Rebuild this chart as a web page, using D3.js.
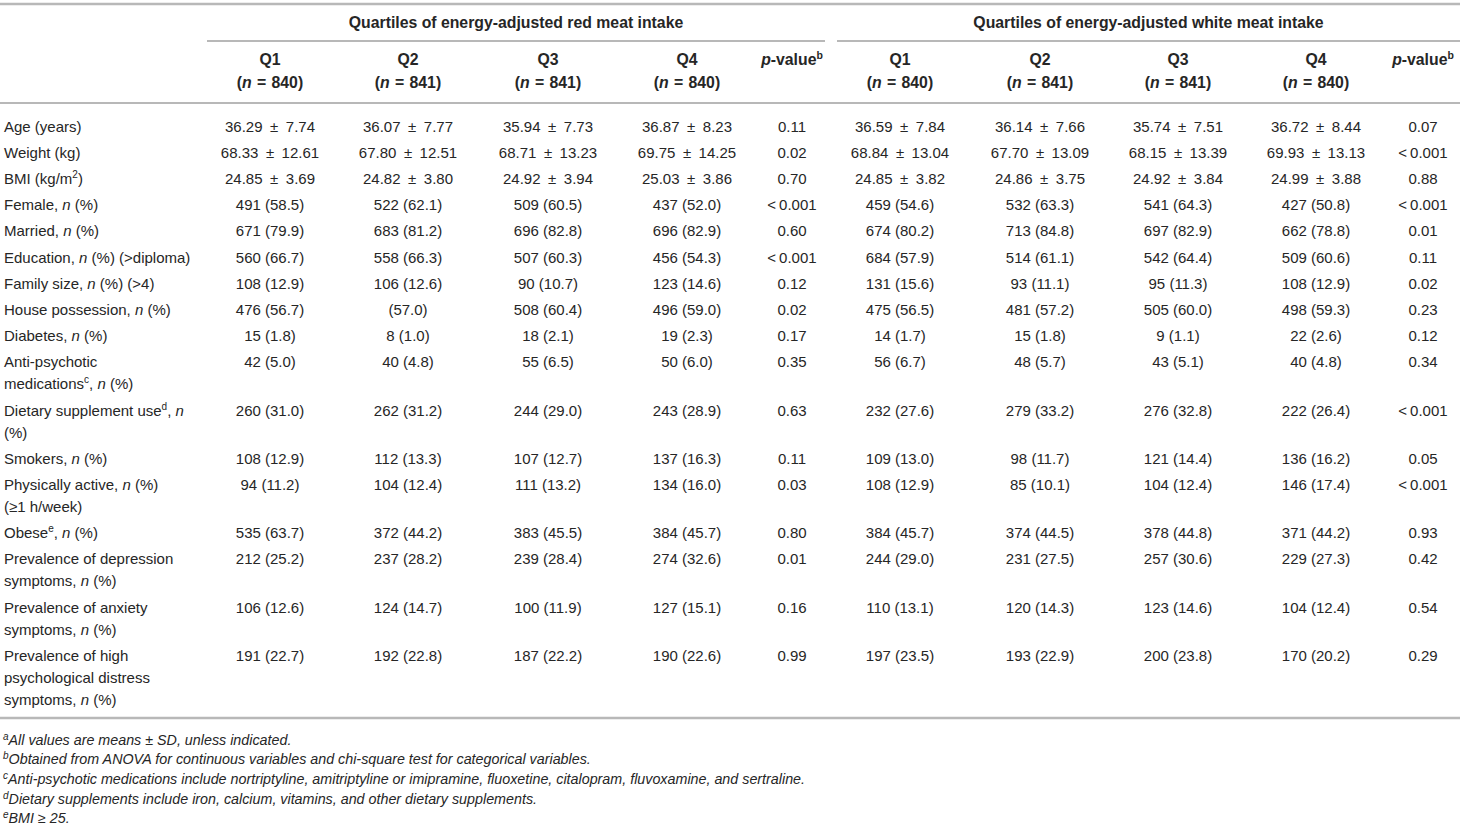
<!DOCTYPE html>
<html>
<head>
<meta charset="utf-8">
<script src="https://cdn.jsdelivr.net/npm/d3@7"></script>
<style>
  html, body { margin: 0; padding: 0; background: #fff; }
  svg text { font-family: "Liberation Sans", Arial, Helvetica, sans-serif; fill: #262626; }
</style>
</head>
<body>
<div id="table"></div>
<script>
// Row labels: *x* = italic, ^{x} = superscript, one string per line
const rowLabels = [
    ["Age (years)"],
    ["Weight (kg)"],
    ["BMI (kg/m^{2})"],
    ["Female, *n* (%)"],
    ["Married, *n* (%)"],
    ["Education, *n* (%) (>diploma)"],
    ["Family size, *n* (%) (>4)"],
    ["House possession, *n* (%)"],
    ["Diabetes, *n* (%)"],
    ["Anti-psychotic", "medications^{c}, *n* (%)"],
    ["Dietary supplement use^{d}, *n*", "(%)"],
    ["Smokers, *n* (%)"],
    ["Physically active, *n* (%)", "(≥1 h/week)"],
    ["Obese^{e}, *n* (%)"],
    ["Prevalence of depression", "symptoms, *n* (%)"],
    ["Prevalence of anxiety", "symptoms, *n* (%)"],
    ["Prevalence of high", "psychological distress", "symptoms, *n* (%)"]
];

const groupTitles = ["Quartiles of energy-adjusted red meat intake", "Quartiles of energy-adjusted white meat intake"];
const quartileNames = ["Q1", "Q2", "Q3", "Q4"];
const quartileN = [840, 841, 841, 840];

const redQ1 = ["36.29 ± 7.74", "68.33 ± 12.61", "24.85 ± 3.69", "491 (58.5)", "671 (79.9)", "560 (66.7)", "108 (12.9)", "476 (56.7)", "15 (1.8)", "42 (5.0)", "260 (31.0)", "108 (12.9)", "94 (11.2)", "535 (63.7)", "212 (25.2)", "106 (12.6)", "191 (22.7)"];
const redQ2 = ["36.07 ± 7.77", "67.80 ± 12.51", "24.82 ± 3.80", "522 (62.1)", "683 (81.2)", "558 (66.3)", "106 (12.6)", "(57.0)", "8 (1.0)", "40 (4.8)", "262 (31.2)", "112 (13.3)", "104 (12.4)", "372 (44.2)", "237 (28.2)", "124 (14.7)", "192 (22.8)"];
const redQ3 = ["35.94 ± 7.73", "68.71 ± 13.23", "24.92 ± 3.94", "509 (60.5)", "696 (82.8)", "507 (60.3)", "90 (10.7)", "508 (60.4)", "18 (2.1)", "55 (6.5)", "244 (29.0)", "107 (12.7)", "111 (13.2)", "383 (45.5)", "239 (28.4)", "100 (11.9)", "187 (22.2)"];
const redQ4 = ["36.87 ± 8.23", "69.75 ± 14.25", "25.03 ± 3.86", "437 (52.0)", "696 (82.9)", "456 (54.3)", "123 (14.6)", "496 (59.0)", "19 (2.3)", "50 (6.0)", "243 (28.9)", "137 (16.3)", "134 (16.0)", "384 (45.7)", "274 (32.6)", "127 (15.1)", "190 (22.6)"];
const redP = ["0.11", "0.02", "0.70", "<0.001", "0.60", "<0.001", "0.12", "0.02", "0.17", "0.35", "0.63", "0.11", "0.03", "0.80", "0.01", "0.16", "0.99"];

const whiteQ1 = ["36.59 ± 7.84", "68.84 ± 13.04", "24.85 ± 3.82", "459 (54.6)", "674 (80.2)", "684 (57.9)", "131 (15.6)", "475 (56.5)", "14 (1.7)", "56 (6.7)", "232 (27.6)", "109 (13.0)", "108 (12.9)", "384 (45.7)", "244 (29.0)", "110 (13.1)", "197 (23.5)"];
const whiteQ2 = ["36.14 ± 7.66", "67.70 ± 13.09", "24.86 ± 3.75", "532 (63.3)", "713 (84.8)", "514 (61.1)", "93 (11.1)", "481 (57.2)", "15 (1.8)", "48 (5.7)", "279 (33.2)", "98 (11.7)", "85 (10.1)", "374 (44.5)", "231 (27.5)", "120 (14.3)", "193 (22.9)"];
const whiteQ3 = ["35.74 ± 7.51", "68.15 ± 13.39", "24.92 ± 3.84", "541 (64.3)", "697 (82.9)", "542 (64.4)", "95 (11.3)", "505 (60.0)", "9 (1.1)", "43 (5.1)", "276 (32.8)", "121 (14.4)", "104 (12.4)", "378 (44.8)", "257 (30.6)", "123 (14.6)", "200 (23.8)"];
const whiteQ4 = ["36.72 ± 8.44", "69.93 ± 13.13", "24.99 ± 3.88", "427 (50.8)", "662 (78.8)", "509 (60.6)", "108 (12.9)", "498 (59.3)", "22 (2.6)", "40 (4.8)", "222 (26.4)", "136 (16.2)", "146 (17.4)", "371 (44.2)", "229 (27.3)", "104 (12.4)", "170 (20.2)"];
const whiteP = ["0.07", "<0.001", "0.88", "<0.001", "0.01", "0.11", "0.02", "0.23", "0.12", "0.34", "<0.001", "0.05", "<0.001", "0.93", "0.42", "0.54", "0.29"];

const footnotes = [
    ["a", "All values are means ± SD, unless indicated."],
    ["b", "Obtained from ANOVA for continuous variables and chi-square test for categorical variables."],
    ["c", "Anti-psychotic medications include nortriptyline, amitriptyline or imipramine, fluoxetine, citalopram, fluvoxamine, and sertraline."],
    ["d", "Dietary supplements include iron, calcium, vitamins, and other dietary supplements."],
    ["e", "BMI ≥ 25."]
];

const width = 1460;
const height = 828;
const ruleColor = "#b8b8b8";

const svg = d3.select("#table")
    .append("svg")
    .attr("width", width)
    .attr("height", height);

svg.append("rect").attr("width", width).attr("height", height).attr("fill", "#fff");

// column centres
const columns = [
    { key: "rQ1", values: redQ1 }, { key: "rQ2", values: redQ2 },
    { key: "rQ3", values: redQ3 }, { key: "rQ4", values: redQ4 },
    { key: "rP", values: redP },
    { key: "wQ1", values: whiteQ1 }, { key: "wQ2", values: whiteQ2 },
    { key: "wQ3", values: whiteQ3 }, { key: "wQ4", values: whiteQ4 },
    { key: "wP", values: whiteP }
];
const x = d3.scaleOrdinal()
    .domain(columns.map(c => c.key))
    .range([270, 408, 548, 687, 792, 900, 1040, 1178, 1316, 1423]);

const groups = [
    { title: groupTitles[0], prefix: "r", x0: 207, x1: 825 },
    { title: groupTitles[1], prefix: "w", x0: 837, x1: width }
];

// row positions: one line = 26.2px, each extra line adds 22px
const lineGap = 22;
const rowStep = 26.2;
const firstBaseline = 131.5;
const rowY = [];
rowLabels.reduce((acc, lines) => {
    rowY.push(acc);
    return acc + rowStep + (lines.length - 1) * lineGap;
}, firstBaseline);

// wider spacing around ± and after <, as in the source typesetting
const spaced = s => s.replace(" ± ", "\u2002±\u2002").replace("<", "<\u2009");

// write a string with *italic* and ^{sup} markup into a text element
function richText(textEl, str, supSize) {
    const parts = str.split(/(\*[^*]+\*|\^\{[^}]+\})/).filter(p => p !== "");
    let raised = false;
    parts.forEach(p => {
        const t = textEl.append("tspan");
        if (p.startsWith("^{")) {
            t.text(p.slice(2, -1)).style("font-size", supSize + "px").attr("dy", -6);
            raised = true;
            return;
        }
        if (p.startsWith("*")) {
            t.text(p.slice(1, -1)).style("font-style", "italic");
        } else {
            t.text(p);
        }
        if (raised) { t.attr("dy", 6); raised = false; }
    });
}

// rules
const rule = (x0, x1, y, w) => svg.append("line")
    .attr("x1", x0).attr("x2", x1).attr("y1", y).attr("y2", y)
    .attr("stroke", ruleColor).attr("stroke-width", w);

rule(0, width, 4, 2.5);
rule(0, width, 103, 2);
rule(0, width, 718, 2.5);
groups.forEach(g => rule(g.x0, g.x1, 41, 2));

// header
const header = svg.append("g").style("font-weight", "bold").style("font-size", "15.8px");

groups.forEach(g => {
    header.append("text")
        .attr("x", (g.x0 + g.x1) / 2)
        .attr("y", 28)
        .attr("text-anchor", "middle")
        .text(g.title);

    quartileNames.forEach((q, i) => {
        const cx = x(g.prefix + q);
        header.append("text")
            .attr("x", cx).attr("y", 65)
            .attr("text-anchor", "middle")
            .text(q);
        const nt = header.append("text")
            .attr("x", cx).attr("y", 88)
            .attr("text-anchor", "middle");
        nt.append("tspan").text("(");
        nt.append("tspan").text("n").style("font-style", "italic");
        nt.append("tspan").text("\u2004=\u2004" + quartileN[i] + ")");
    });

    const pt = header.append("text")
        .attr("x", x(g.prefix + "P")).attr("y", 65)
        .attr("text-anchor", "middle");
    richText(pt, "*p*-value^{b}", 10.5);
});

// body
const body = svg.append("g").style("font-size", "15px");

rowLabels.forEach((lines, i) => {
    lines.forEach((line, j) => {
        const lt = body.append("text")
            .attr("class", "label")
            .attr("x", 4)
            .attr("y", rowY[i] + j * lineGap);
        richText(lt, line, 10);
    });
});

columns.forEach(col => {
    body.selectAll(null)
        .data(col.values)
        .join("text")
        .attr("x", x(col.key))
        .attr("y", (d, i) => rowY[i])
        .attr("text-anchor", "middle")
        .text(d => spaced(d));
});

// footnotes
const notes = svg.append("g").style("font-size", "14.3px").style("font-style", "italic");
footnotes.forEach((f, i) => {
    const t = notes.append("text")
        .attr("x", 3)
        .attr("y", 744.5 + i * 19.7);
    t.append("tspan").text(f[0]).style("font-size", "10px").attr("dy", -5);
    t.append("tspan").text(f[1]).attr("dy", 5);
});
</script>
</body>
</html>
